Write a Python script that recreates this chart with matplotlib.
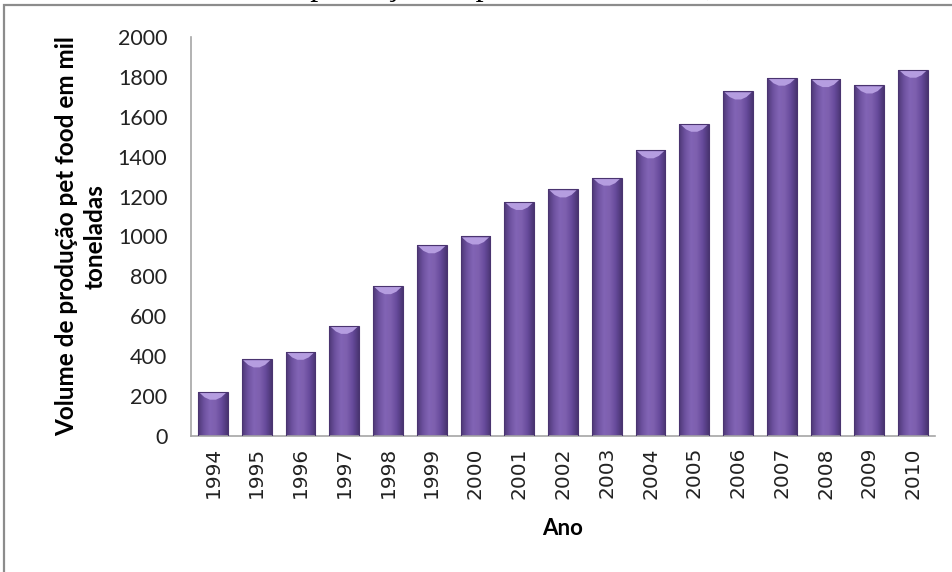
import matplotlib.pyplot as plt
import numpy as np
from matplotlib.colors import LinearSegmentedColormap
from matplotlib.patches import Polygon, Rectangle

anos = ["1994", "1995", "1996", "1997", "1998", "1999", "2000", "2001", "2002",
        "2003", "2004", "2005", "2006", "2007", "2008", "2009", "2010"]
volume = [222, 384, 422, 552, 751, 956, 1000, 1173, 1236,
          1295, 1432, 1565, 1727, 1796, 1789, 1757, 1836]
yticks = [0, 200, 400, 600, 800, 1000, 1200, 1400, 1600, 1800, 2000]

fig = plt.figure(figsize=(9.53, 5.72), dpi=100)
fig.patch.set_facecolor("white")

# titulo cortado no topo da pagina
fig.text(165 / 953, 1 + 5 / 572, "Volume de produção de pet food no Brasil, 1994 a 2010",
         family="Liberation Serif", fontsize=23, ha="left", va="baseline")

# moldura do grafico
fig.patches.append(Rectangle((4 / 953, -0.1), 1.1, 0.1 + (572 - 5) / 572,
                             transform=fig.transFigure, fill=False,
                             edgecolor="#8c8c8c", linewidth=1.6))

ax = fig.add_axes([191 / 953, 136 / 572, (935 - 191) / 953, (436 - 37) / 572])
x = np.arange(len(anos))
bars = ax.bar(x, volume, width=0.68, color="none", edgecolor="#4a3470",
              linewidth=0.8, zorder=3)

# gradiente horizontal para dar volume as barras
cmap = LinearSegmentedColormap.from_list(
    "roxo", ["#4e3877", "#6e52a0", "#8264b5", "#7d5fae", "#664a9b", "#4a3572"])
grad = np.linspace(0, 1, 64).reshape(1, -1)
bevel = 40
for b in bars:
    x0, w, h = b.get_x(), b.get_width(), b.get_height()
    im = ax.imshow(grad, extent=(x0, x0 + w, 0, h), aspect="auto",
                   cmap=cmap, zorder=2, interpolation="bicubic")
    im.set_clip_path(b)
    topo = Polygon([(x0 + 0.03, h - 4), (x0 + w - 0.03, h - 4),
                    (x0 + w * 0.78, h - bevel * 0.7), (x0 + w * 0.6, h - bevel),
                    (x0 + w * 0.4, h - bevel), (x0 + w * 0.22, h - bevel * 0.7)],
                   closed=True, facecolor="#b59de0", edgecolor="none", zorder=2.5)
    ax.add_patch(topo)

ax.set_xlim(-0.5, len(anos) - 0.5)
ax.set_ylim(0, 2000)
ax.set_yticks(yticks)
ax.set_yticklabels([str(v) for v in yticks], family="Lato", fontsize=15.5, color="#222222")
ax.set_xticks(x)
ax.set_xticklabels(anos, rotation=90, family="DejaVu Sans", fontsize=14.5, color="#222222")
ax.tick_params(axis="y", length=0, pad=17)
ax.tick_params(axis="x", length=0, pad=8)

for s in ["top", "right"]:
    ax.spines[s].set_visible(False)
ax.spines["left"].set_color("#a6a6a6")
ax.spines["bottom"].set_color("#a6a6a6")
ax.spines["left"].set_linewidth(1.2)
ax.spines["bottom"].set_linewidth(1.2)

ax.set_ylabel("Volume de produção pet food em mil\ntoneladas", family="Lato",
              fontweight="bold", fontsize=17.5, labelpad=8, linespacing=1.3)
ax.set_xlabel("Ano", family="Lato", fontweight="bold", fontsize=16, labelpad=14)

fig.savefig("out.png", dpi=100)
